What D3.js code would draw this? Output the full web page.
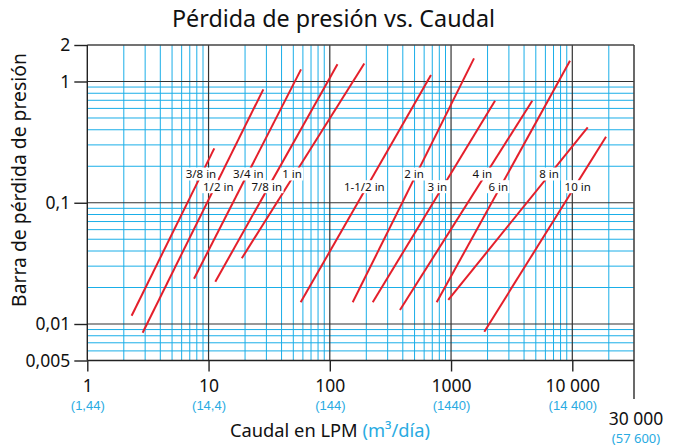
<!DOCTYPE html>
<html><head><meta charset="utf-8">
<script src="https://cdn.jsdelivr.net/npm/d3@7"></script>
<style>
html,body{margin:0;padding:0;background:#fff;}
svg{display:block;font-family:"Noto Sans","Open Sans",sans-serif;}
</style></head>
<body><svg id="c" width="678" height="446"></svg>
<script>
// ---------- data ----------
const xTicks = [1, 10, 100, 1000, 10000];
const xTickLabels = ["1", "10", "100", "1000", "10 000"];
const xSubLabels = ["(1,44)", "(14,4)", "(144)", "(1440)", "(14 400)"];
const xEndValue = 30000;
const xEndLabel = "30 000";
const xEndSubLabel = "(57 600)";
const yTicks = [2, 1, 0.1, 0.01, 0.005];
const yTickLabels = ["2", "1", "0,1", "0,01", "0,005"];

const pipes  = ["3/8 in","1/2 in","3/4 in","7/8 in","1 in","1-1/2 in","2 in","3 in","4 in","6 in","8 in","10 in"];
const qStart = [2.32, 2.86, 7.59, 11.37, 18.8, 57.5, 154.5, 226, 379, 761, 949, 1880];
const pStart = [0.0117, 0.00848, 0.0236, 0.0223, 0.0348, 0.0151, 0.0151, 0.0151, 0.01305, 0.0151, 0.0158, 0.00864];
const qEnd   = [11.15, 28.3, 57.9, 115.7, 192.6, 683, 1546, 2305, 4677, 9572, 13400, 18970];
const pEnd   = [0.281, 0.862, 1.26, 1.39, 1.41, 1.13, 1.55, 0.695, 0.695, 1.48, 0.419, 0.3505];
const labelQ = [8.66, 12.03, 21.3, 30.2, 48.8, 192.6, 495, 770, 1810, 2453, 6425, 11080];
const labelP = [0.1726, 0.1357, 0.1726, 0.1357, 0.1726, 0.1357, 0.1726, 0.1357, 0.1726, 0.1357, 0.1726, 0.1357];

// ---------- layout ----------
const svg = d3.select("#c");
const x = d3.scaleLog().domain([1, 10000]).range([87.3, 572.3]);
const y = d3.scaleLog().domain([0.01, 1]).range([324, 81.5]);
const pLeft = x(1), pRight = 634, pTop = y(2), pBottom = y(0.005);
const BLUE = "#1aaee8", TXTBLUE = "#29abe2", RED = "#e41f2b";

function fit(sel, w) {
  const n = sel.node(); const fs = parseFloat(sel.attr("font-size"));
  const l = n.getComputedTextLength(); sel.attr("font-size", fs * w / l);
}

// minor grid
const minorX = [], minorY = [];
for (let e = 0; e <= 4; e++) for (let k = 2; k <= 9; k++) { const v = k * Math.pow(10, e); if (v < xEndValue) minorX.push(v); }
for (let e = -3; e <= -1; e++) for (let k = 2; k <= 9; k++) { const v = k * Math.pow(10, e); if (v > 0.005) minorY.push(v); }
const grid = svg.append("g");
grid.selectAll(".vx").data(minorX).join("line")
  .attr("x1", d => x(d)).attr("x2", d => x(d)).attr("y1", pTop).attr("y2", pBottom)
  .attr("stroke", BLUE).attr("stroke-width", 1);
grid.selectAll(".hy").data(minorY).join("line")
  .attr("x1", pLeft).attr("x2", pRight).attr("y1", d => y(d)).attr("y2", d => y(d))
  .attr("stroke", BLUE).attr("stroke-width", 1);
// major grid
grid.selectAll(".mx").data(xTicks.slice(1)).join("line")
  .attr("x1", d => x(d)).attr("x2", d => x(d)).attr("y1", pTop).attr("y2", pBottom)
  .attr("stroke", "#333").attr("stroke-width", 1.2);
grid.selectAll(".my").data([1, 0.1, 0.01]).join("line")
  .attr("x1", pLeft).attr("x2", pRight).attr("y1", d => y(d)).attr("y2", d => y(d))
  .attr("stroke", "#333").attr("stroke-width", 1.2);

// pipe lines
svg.append("g").selectAll("line").data(pipes).join("line")
  .attr("x1", (d, i) => x(qStart[i])).attr("y1", (d, i) => y(pStart[i]))
  .attr("x2", (d, i) => x(qEnd[i])).attr("y2", (d, i) => y(pEnd[i]))
  .attr("stroke", RED).attr("stroke-width", 2);

// pipe labels
const lg = svg.append("g");
pipes.forEach((name, i) => {
  const g = lg.append("g");
  const t = g.append("text").attr("x", x(labelQ[i])).attr("y", y(labelP[i]))
    .attr("text-anchor", "middle").attr("dy", "0.35em").attr("font-size", 11.5).attr("fill", "#111").text(name);
  const b = t.node().getBBox();
  g.insert("rect", "text").attr("x", b.x - 1.5).attr("y", y(labelP[i]) - 6.5).attr("width", b.width + 3).attr("height", 13).attr("fill", "#fff");
});

// frame
const fr = svg.append("g").attr("stroke", "#444").attr("fill", "none");
fr.append("line").attr("x1", pLeft).attr("x2", pRight).attr("y1", pTop).attr("y2", pTop).attr("stroke-width", 1.6);
fr.append("line").attr("x1", pRight).attr("x2", pRight).attr("y1", pTop).attr("y2", 399).attr("stroke-width", 1.6);
fr.append("line").attr("x1", pLeft).attr("x2", pRight).attr("y1", pBottom).attr("y2", pBottom).attr("stroke", "#222").attr("stroke-width", 1.4);
fr.append("line").attr("x1", pLeft).attr("x2", pLeft).attr("y1", pTop).attr("y2", pBottom).attr("stroke", "#222").attr("stroke-width", 1.4);

// x axis
const xa = svg.append("g").attr("transform", `translate(0,${pBottom})`)
  .call(d3.axisBottom(x).tickValues(xTicks).tickSize(11).tickFormat((d, i) => xTickLabels[i]));
xa.select(".domain").remove();
xa.selectAll(".tick line").attr("stroke", "#222").attr("stroke-width", 1.4);
xa.selectAll(".tick text").attr("y", 32).attr("dy", null).attr("font-size", 17.5)
  .attr("font-family", "Noto Sans").attr("fill", "#111");
xa.selectAll(".tick").append("text").attr("y", 49.5).attr("text-anchor", "middle")
  .attr("font-size", 13).attr("fill", TXTBLUE).text((d, i) => xSubLabels[i]);
svg.append("text").attr("x", pRight + 2).attr("y", 425).attr("text-anchor", "middle")
  .attr("font-size", 17.5).attr("fill", "#111").text(xEndLabel);
svg.append("text").attr("x", pRight + 2).attr("y", 443).attr("text-anchor", "middle")
  .attr("font-size", 13).attr("fill", TXTBLUE).text(xEndSubLabel);

// y axis
const ya = svg.append("g").attr("transform", `translate(${pLeft},0)`)
  .call(d3.axisLeft(y).tickValues(yTicks).tickSize(13).tickPadding(4).tickFormat((d, i) => yTickLabels[i]));
ya.select(".domain").remove();
ya.selectAll(".tick line").attr("stroke", "#222").attr("stroke-width", 1.4);
ya.selectAll(".tick text").attr("font-size", 17.5).attr("font-family", "Noto Sans").attr("fill", "#111");

// titles
const title = svg.append("text").attr("x", 333.5).attr("y", 27).attr("text-anchor", "middle")
  .attr("font-size", 24).attr("fill", "#111").text("Pérdida de presión vs. Caudal");
fit(title, 323);
const yl = svg.append("text").attr("transform", "translate(25.5,180) rotate(-90)").attr("text-anchor", "middle")
  .attr("font-size", 17).attr("fill", "#111").text("Barra de pérdida de presión");
fit(yl, 254);
const xl = svg.append("text").attr("x", 230).attr("y", 437).attr("font-size", 17).attr("fill", "#111");
xl.append("tspan").text("Caudal en LPM ");
xl.append("tspan").attr("fill", TXTBLUE).text("(m³/día)");
fit(xl, 200);
</script></body></html>
